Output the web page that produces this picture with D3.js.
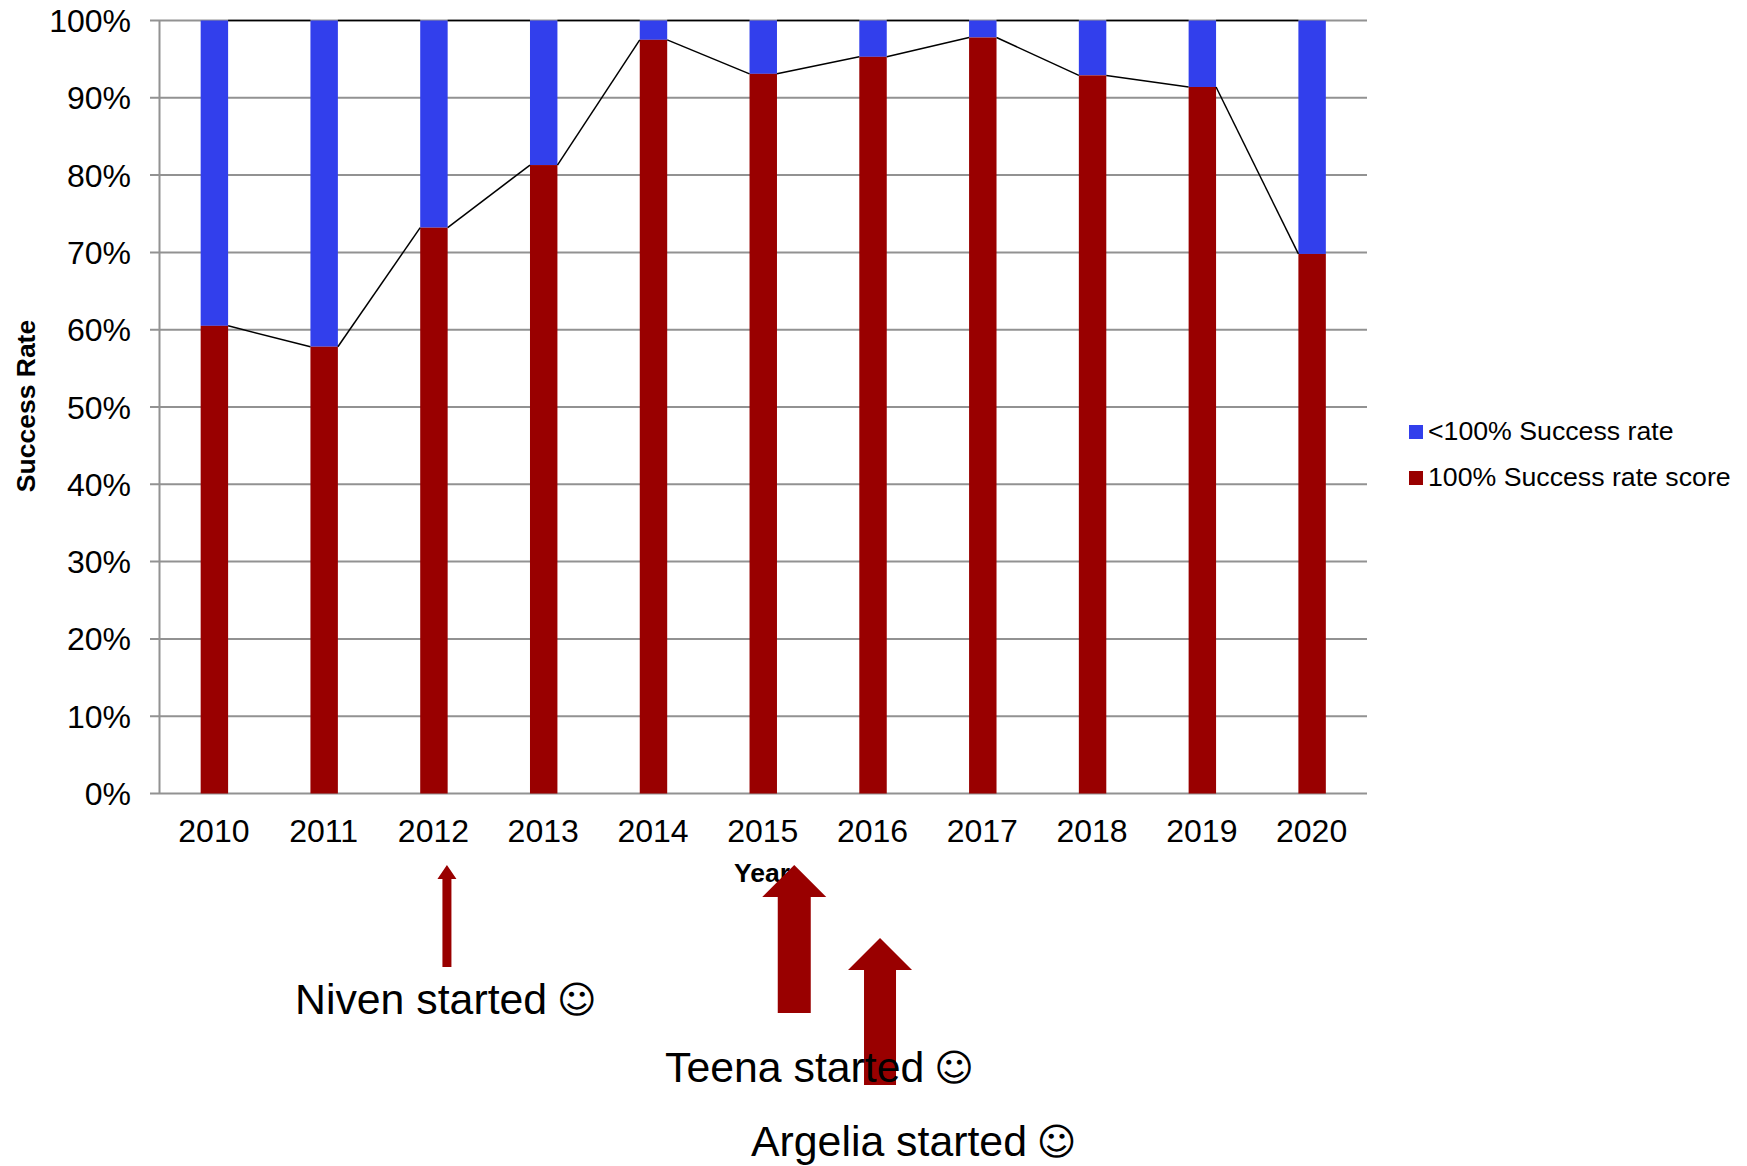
<!DOCTYPE html>
<html>
<head>
<meta charset="utf-8">
<script src="https://cdn.jsdelivr.net/npm/d3@7"></script>
<style>
html,body{margin:0;padding:0;background:#fff}
text{font-family:"Liberation Sans",Arial,sans-serif;fill:#000}
</style>
</head>
<body>
<svg id="chart" width="1747" height="1166"></svg>
<script>
const years = ["2010","2011","2012","2013","2014","2015","2016","2017","2018","2019","2020"];
const perfectScores = [60.5,57.8,73.2,81.3,97.5,93.1,95.3,97.8,92.9,91.4,69.8];
const yTicks = [0,10,20,30,40,50,60,70,80,90,100];
const legendLabels = ["<100% Success rate","100% Success rate score"];
const legendColors = ["#323fec","#990000"];
const milestones = ["Niven started ","Teena started ","Argelia started "];
const milestoneYears = ["2012","2015","2016"];

const svg = d3.select("#chart");
const x = d3.scaleBand().domain(years).range([159.5,1367]).paddingInner(0.75).paddingOuter(0.375);
const y = d3.scaleLinear().domain([0,100]).range([793.5,20.5]);
const grey = "#929292";

// Horizontal gridlines with short ticks left of the axis
svg.append("g").selectAll("line").data(yTicks).join("line")
  .attr("x1",150).attr("x2",1367)
  .attr("y1",d=>y(d)).attr("y2",d=>y(d))
  .attr("stroke",grey).attr("stroke-width",2);
svg.append("line").attr("x1",159.5).attr("x2",159.5).attr("y1",y(100)).attr("y2",y(0))
  .attr("stroke",grey).attr("stroke-width",2);

// Y tick labels
svg.append("g").selectAll("text").data(yTicks).join("text")
  .attr("x",131).attr("y",d=>y(d)+11.5).attr("text-anchor","end")
  .attr("font-size",32).text(d=>d+"%");

// Stacked bars
const barGroup = svg.append("g");
barGroup.selectAll("rect.top").data(years).join("rect").attr("class","top")
  .attr("x",d=>x(d)).attr("width",x.bandwidth())
  .attr("y",y(100)).attr("height",(d,i)=>y(perfectScores[i])-y(100))
  .attr("fill",legendColors[0]);
barGroup.selectAll("rect.bottom").data(years).join("rect").attr("class","bottom")
  .attr("x",d=>x(d)).attr("width",x.bandwidth())
  .attr("y",(d,i)=>y(perfectScores[i])).attr("height",(d,i)=>y(0)-y(perfectScores[i]))
  .attr("fill",legendColors[1]);

// Series lines joining neighbouring bars
const links = svg.append("g").attr("stroke","#000").attr("stroke-width",1.5);
years.slice(0,-1).forEach((yr,i)=>{
  links.append("line")
    .attr("x1",x(yr)+x.bandwidth()).attr("x2",x(years[i+1]))
    .attr("y1",y(perfectScores[i])).attr("y2",y(perfectScores[i+1]));
  links.append("line")
    .attr("x1",x(yr)+x.bandwidth()).attr("x2",x(years[i+1]))
    .attr("y1",y(100)).attr("y2",y(100));
});

// Category labels
svg.append("g").selectAll("text").data(years).join("text")
  .attr("x",d=>x(d)+x.bandwidth()/2-0.5).attr("y",842).attr("text-anchor","middle")
  .attr("font-size",32).text(d=>d);

// Axis titles
svg.append("text").attr("transform","translate(35,406) rotate(-90)")
  .attr("text-anchor","middle").attr("font-size",26.5).attr("font-weight","bold").text("Success Rate");
svg.append("text").attr("x",734).attr("y",882)
  .attr("font-size",26.5).attr("font-weight","bold").text("Year");

// Legend
const legend = svg.append("g");
legendLabels.forEach((label,i)=>{
  const ly = 432+i*46;
  legend.append("rect").attr("x",1409).attr("y",ly-7).attr("width",14).attr("height",14).attr("fill",legendColors[i]);
  legend.append("text").attr("x",1428).attr("y",ly+7.5).attr("font-size",26.7).text(label);
});

// Milestone arrows pointing up at the year each person started
const arrow = d3.line();
function drawArrow(cx,tipY,baseY,shaft,head,headH){
  svg.append("path").attr("fill","#990000").attr("d",arrow([
    [cx,tipY],[cx+head/2,tipY+headH],[cx+shaft/2,tipY+headH],[cx+shaft/2,baseY],
    [cx-shaft/2,baseY],[cx-shaft/2,tipY+headH],[cx-head/2,tipY+headH]])+"Z");
}
drawArrow(x(milestoneYears[0])+x.bandwidth()/2+13,865,967,9,19,14);
drawArrow(x(milestoneYears[1])+x.bandwidth()/2+31,865,1013,33,64,32);
drawArrow(x(milestoneYears[2])+x.bandwidth()/2+7,938,1085,32,64,32);

// Milestone captions, each closing with a smiley
const captionPos = [[295,1014],[665,1082],[751,1156]];
const captions = svg.append("g").selectAll("text").data(milestones).join("text")
  .attr("x",(d,i)=>captionPos[i][0]).attr("y",(d,i)=>captionPos[i][1])
  .attr("font-size",42.8);
captions.append("tspan").text(d=>d);
captions.append("tspan").attr("font-family","DejaVu Sans").attr("font-size",38)
  .attr("dx",-2).attr("dy",-1).text("☺");
</script>
</body>
</html>
